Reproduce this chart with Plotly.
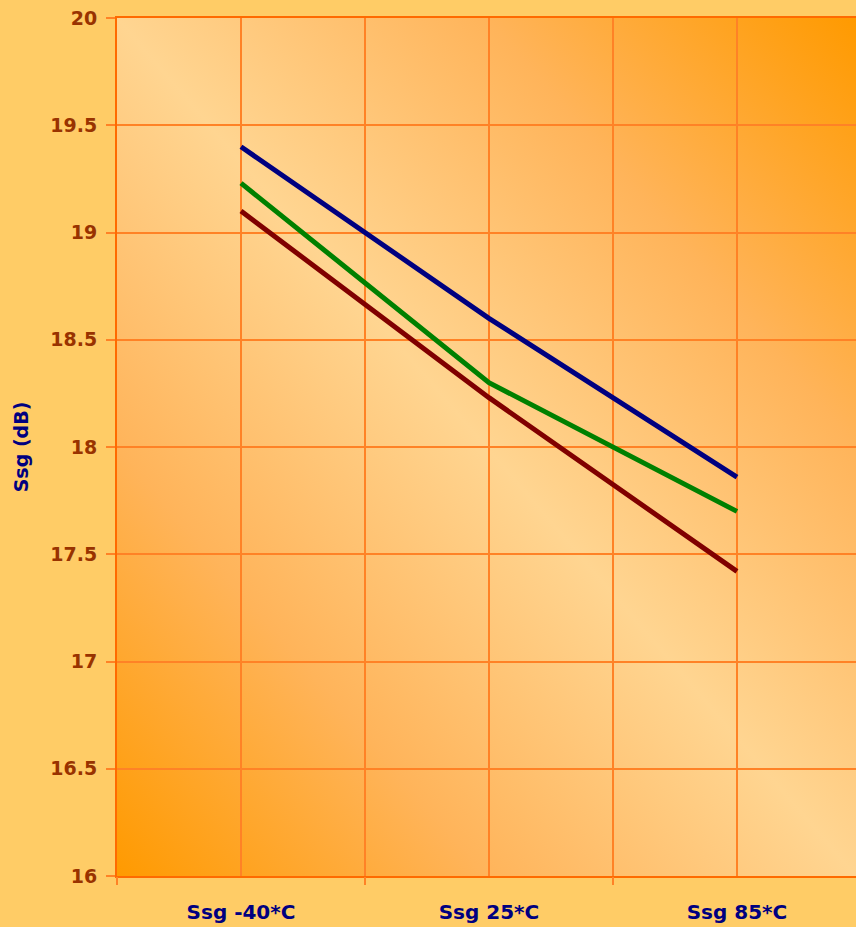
import base64
import plotly.graph_objects as go

# ---- data ----
categories = ["Ssg -40*C", "Ssg 25*C", "Ssg 85*C"]
series_blue = [19.40, 18.60, 17.86]
series_green = [19.23, 18.30, 17.70]
series_red = [19.10, 18.23, 17.42]
y_ticks = [16, 16.5, 17, 17.5, 18, 18.5, 19, 19.5, 20]
y_title = "Ssg (dB)"

# ---- style ----
FONT = "DejaVu Sans"
PAPER = "#FFCC66"
GRID = "#FF8226"
AXIS = "#FF6A00"
XRANGE = [-0.5, 2.48]

svg = (
    '<svg xmlns="http://www.w3.org/2000/svg" width="100" height="100" '
    'viewBox="0 0 100 100" preserveAspectRatio="none">'
    '<defs><linearGradient id="g" gradientUnits="userSpaceOnUse" x1="0" y1="100" x2="100" y2="0">'
    '<stop offset="0" stop-color="#FF9A00"/>'
    '<stop offset="0.25" stop-color="#FFB45A"/>'
    '<stop offset="0.5" stop-color="#FFD591"/>'
    '<stop offset="0.75" stop-color="#FFB45A"/>'
    '<stop offset="1" stop-color="#FF9A00"/>'
    '</linearGradient></defs>'
    '<rect x="0" y="0" width="100" height="100" fill="url(#g)"/></svg>'
)
svg_uri = "data:image/svg+xml;base64," + base64.b64encode(svg.encode()).decode()

fig = go.Figure()
for vals, col in [(series_blue, "#000080"), (series_green, "#008000"), (series_red, "#800000")]:
    fig.add_trace(go.Scatter(x=categories, y=vals, mode="lines",
                             line=dict(color=col, width=5), showlegend=False))
# helper trace so the boundary axis is drawn
fig.add_trace(go.Scatter(x=categories, y=[None] * len(categories), xaxis="x2",
                         mode="lines", showlegend=False, hoverinfo="skip"))

fig.update_layout(
    width=856, height=927,
    margin=dict(l=117, r=0, t=18, b=51),
    paper_bgcolor=PAPER,
    plot_bgcolor="#FFD591",
    images=[dict(source=svg_uri, xref="paper", yref="paper", x=0, y=1,
                 sizex=1, sizey=1, xanchor="left", yanchor="top",
                 sizing="stretch", layer="below")],
    xaxis=dict(type="category", categoryorder="array", categoryarray=categories,
               range=XRANGE, showgrid=True, gridcolor=GRID, gridwidth=1.5,
               ticks="", showline=True, linecolor=AXIS, linewidth=2, mirror=True,
               tickfont=dict(family=FONT, size=20, color="#000080", weight="bold"),
               ticklabelstandoff=17, zeroline=False),
    xaxis2=dict(type="category", categoryorder="array", categoryarray=categories,
                range=XRANGE, overlaying="x", anchor="y", side="bottom",
                tickson="boundaries", showgrid=True, gridcolor=GRID, gridwidth=1.5,
                ticks="outside", ticklen=8, tickcolor=GRID, tickwidth=1.5,
                showticklabels=False, showline=False),
    yaxis=dict(range=[16, 20], tickvals=y_ticks, ticktext=[f"{v:g}" for v in y_ticks],
               showgrid=True, gridcolor=GRID, gridwidth=1.5,
               ticks="outside", ticklen=9, tickcolor=GRID, tickwidth=1.5,
               showline=True, linecolor=AXIS, linewidth=2, mirror=False,
               zeroline=False,
               tickfont=dict(family=FONT, size=19, color="#993300", weight="bold"),
               ticklabelstandoff=5,
               title=dict(text=y_title, standoff=17,
                          font=dict(family=FONT, size=19, color="#000080", weight="bold"))),
)

fig.write_html("out.html", config={"displayModeBar": False},
               post_script="document.body.style.margin='0';document.body.style.padding='0';")
